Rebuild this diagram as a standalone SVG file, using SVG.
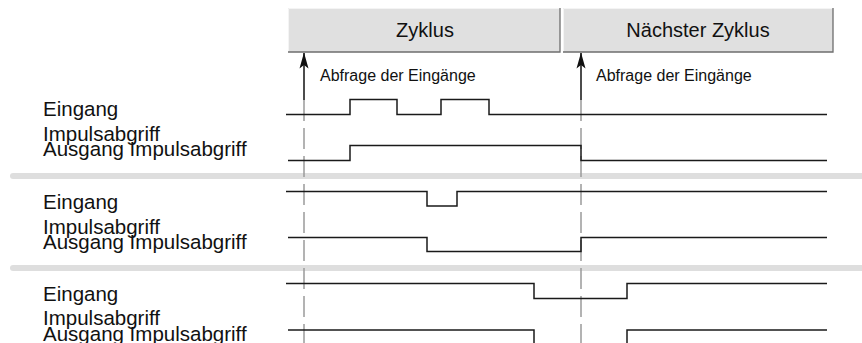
<svg xmlns="http://www.w3.org/2000/svg" width="862" height="343" viewBox="0 0 862 343">
<style>
.box{fill:#e0e0e0;stroke:none}
.shadow{fill:none;stroke:#6e6e6e;stroke-width:1.3}
.hl{fill:none;stroke:#f4f4f4;stroke-width:1}
.sig{fill:none;stroke:#1a1a1a;stroke-width:1.5}
.dash{stroke:#9a9a9a;stroke-width:1.5;stroke-dasharray:21 7}
.arrow{stroke:#111;stroke-width:1.5;fill:none}
.bar{stroke:#dedede;stroke-width:6;stroke-linecap:round}
.lbl{font-family:"Liberation Sans",Arial,sans-serif;font-size:20.5px;fill:#111}
.hdr{font-family:"Liberation Sans",Arial,sans-serif;font-size:20px;fill:#111;text-anchor:middle}
.small{font-family:"Liberation Sans",Arial,sans-serif;font-size:16px;fill:#111}
</style>
<defs>
<marker id="ah" markerWidth="16" markerHeight="10" refX="15.5" refY="5" orient="auto" markerUnits="userSpaceOnUse" viewBox="0 0 16 10">
<path d="M16 5 L0 0.5 L3.5 5 L0 9.5 Z" fill="#111"/>
</marker>
</defs>
<g id="header-zyklus">
<rect class="box" x="288" y="8" width="272" height="44"/>
<path class="hl" d="M288.5 52 V8.5 H560"/>
<path class="shadow" d="M560 8 V52 H288"/>
<text class="hdr" x="425" y="37">Zyklus</text>
</g>
<g id="header-naechster">
<rect class="box" x="563" y="8" width="270" height="44"/>
<path class="hl" d="M563.5 52 V8.5 H833"/>
<path class="shadow" d="M833 8 V52 H563"/>
<text class="hdr" x="698" y="37">Nächster Zyklus</text>
</g>
<g id="separators">
<line class="bar" x1="13" y1="176" x2="865" y2="176"/>
<line class="bar" x1="13" y1="268" x2="865" y2="268"/>
</g>
<g id="labels-row1">
<text class="lbl" x="43" y="116">Eingang</text>
<text class="lbl" x="43" y="140.5">Impulsabgriff</text>
<text class="lbl" x="43" y="156">Ausgang Impulsabgriff</text>
</g>
<g id="labels-row2">
<text class="lbl" x="43" y="209">Eingang</text>
<text class="lbl" x="43" y="233.5">Impulsabgriff</text>
<text class="lbl" x="43" y="249">Ausgang Impulsabgriff</text>
</g>
<g id="labels-row3">
<text class="lbl" x="43" y="300.5">Eingang</text>
<text class="lbl" x="43" y="325">Impulsabgriff</text>
<text class="lbl" x="43" y="340.5">Ausgang Impulsabgriff</text>
</g>
<g id="connectors">
<line class="dash" x1="304" y1="100" x2="304" y2="343"/>
<line class="dash" x1="581" y1="100" x2="581" y2="343"/>
<line class="arrow" x1="304" y1="100" x2="304" y2="53" marker-end="url(#ah)"/>
<line class="arrow" x1="581" y1="100" x2="581" y2="53" marker-end="url(#ah)"/>
</g>
<g id="abfrage-labels">
<text class="small" x="320" y="81">Abfrage der Eingänge</text>
<text class="small" x="596" y="81">Abfrage der Eingänge</text>
</g>
<g id="signals-row1">
<path class="sig" d="M286 114.5 H350 V99.5 H397 V114.5 H441 V99.5 H489 V114.5 H827"/>
<path class="sig" d="M288 160.5 H350 V145.5 H581 V160.5 H827"/>
</g>
<g id="signals-row2">
<path class="sig" d="M286 191.5 H427 V206 H457 V191.5 H827"/>
<path class="sig" d="M288 237.5 H427 V251.5 H581 V237.5 H827"/>
</g>
<g id="signals-row3">
<path class="sig" d="M286 283.5 H534 V298.5 H627 V283.5 H827"/>
<path class="sig" d="M288 330 H534 V345"/>
<path class="sig" d="M627 345 V330 H827"/>
</g>
</svg>
